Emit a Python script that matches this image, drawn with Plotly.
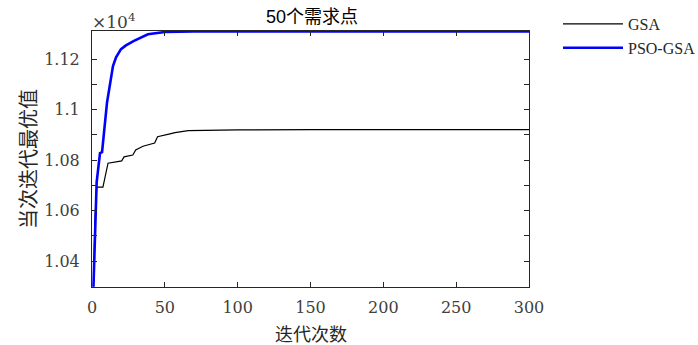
import plotly.graph_objects as go

# GSA breakpoints (iteration, best value)
gsa_iter = [1, 2, 3.2, 7.5, 11, 14.4, 20.4, 22, 28, 30, 35, 43, 45, 53.5, 57, 66, 80, 100, 150, 200, 250, 300]
gsa_val = [10298, 10560, 10693, 10693, 10788, 10792, 10797, 10813, 10820, 10840, 10855, 10868, 10893, 10904, 10909, 10917, 10919, 10920, 10921, 10921, 10921, 10921]

# PSO-GSA breakpoints
pso_iter = [1, 2.1, 3.2, 5.5, 6.9, 10.3, 14.4, 16.5, 19.9, 23.3, 28.8, 38.4, 50, 70, 100, 150, 200, 250, 300]
pso_val = [10298, 10539, 10713, 10828, 10832, 11028, 11173, 11208, 11240, 11255, 11273, 11299, 11308, 11310, 11310, 11310, 11310, 11310, 11310]

x_ticks = [0, 50, 100, 150, 200, 250, 300]
y_ticks = [10400, 10600, 10800, 11000, 11200]
y_tick_labels = ["1.04", "1.06", "1.08", "1.1", "1.12"]

L, R, T, B = 92, 529, 31, 287
W, H = 698, 345

fig = go.Figure()
fig.add_trace(go.Scatter(x=gsa_iter, y=gsa_val, mode="lines", name="GSA",
                         line=dict(color="#000000", width=1.2)))
fig.add_trace(go.Scatter(x=pso_iter, y=pso_val, mode="lines", name="PSO-GSA",
                         line=dict(color="#0000FF", width=2.6)))

tickfont = dict(family="DejaVu Serif, serif", size=16, color="#404040")
cjk = "Noto Sans CJK SC"
fig.update_xaxes(range=[0, 300], tickvals=x_ticks, ticks="inside", ticklen=5, tickcolor="#262626",
                 showline=True, linecolor="#262626", linewidth=1, mirror="ticks",
                 showgrid=False, zeroline=False, tickfont=tickfont, automargin=False,
                 ticklabelstandoff=6)
fig.update_yaxes(range=[10297, 11312], tickvals=y_ticks, ticktext=y_tick_labels,
                 ticks="inside", ticklen=5, tickcolor="#262626",
                 minor=dict(tickvals=[10500, 10700, 10900, 11100], ticks="inside", ticklen=5, tickcolor="#262626"),
                 showline=True, linecolor="#262626", linewidth=1, mirror="ticks",
                 showgrid=False, zeroline=False, tickfont=tickfont, automargin=False,
                 ticklabelstandoff=8)

# axis titles as annotations for precise placement
fig.add_annotation(text="迭代次数", xref="paper", yref="paper", x=0.5, y=-(333 - B) / (B - T),
                   xanchor="center", yanchor="middle", showarrow=False,
                   font=dict(family=cjk, size=18, color="#262626"))
fig.add_annotation(text="当次迭代最优值", xref="paper", yref="paper", x=-(L - 27) / (R - L), y=0.5,
                   xanchor="center", yanchor="middle", showarrow=False, textangle=-90,
                   font=dict(family=cjk, size=20, color="#262626"))
fig.add_annotation(text="50个需求点", xref="paper", yref="paper", x=(312 - L) / (R - L), y=(B - 17) / (B - T),
                   xanchor="center", yanchor="middle", showarrow=False,
                   font=dict(family="Liberation Sans, Noto Sans CJK SC", size=18, color="#000000"))
fig.add_annotation(text="×10<sup>4</sup>", xref="paper", yref="paper", x=-0.004, y=1.0,
                   xanchor="left", yanchor="bottom", showarrow=False, yshift=-3,
                   font=dict(family="DejaVu Serif, serif", size=17, color="#404040"))

fig.update_layout(
    width=W, height=H,
    margin=dict(l=L, r=W - R, t=T, b=H - B, autoexpand=False),
    paper_bgcolor="white", plot_bgcolor="white",
    legend=dict(x=(558 - L) / (R - L), y=(B - 7) / (B - T), xanchor="left", yanchor="top",
                bgcolor="rgba(0,0,0,0)",
                font=dict(family="Liberation Serif, serif", size=16, color="#262626"),
                itemwidth=60, tracegroupgap=2),
    showlegend=True,
)

fig.write_html("out.html", config={"displayModeBar": False},
               post_script="document.body.style.margin='0px';document.body.style.overflow='hidden';")
